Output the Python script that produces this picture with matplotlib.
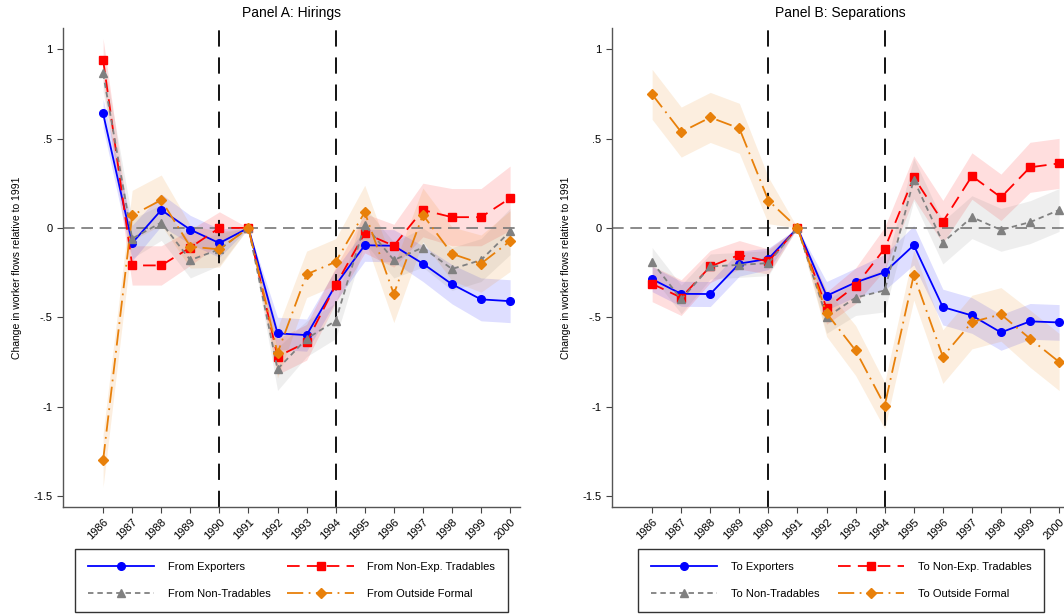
import matplotlib
matplotlib.use("Agg")
import matplotlib.pyplot as plt
import numpy as np

plt.rcParams["font.family"] = ["Liberation Sans", "DejaVu Sans"]

# ── Data ──────────────────────────────────────────────────────────
years = list(range(1986, 2001))

# Panel A: Hirings
hir_exp = [0.64, -0.085, 0.10, -0.01, -0.085, 0.0, -0.59, -0.60, -0.32, -0.097, -0.10, -0.20, -0.315, -0.40, -0.41]
hir_net = [0.94, -0.21, -0.21, -0.11, 0.0, 0.0, -0.72, -0.64, -0.32, -0.03, -0.10, 0.10, 0.06, 0.06, 0.166]
hir_nt  = [0.864, -0.06, 0.03, -0.18, -0.12, 0.0, -0.79, -0.62, -0.52, 0.017, -0.18, -0.11, -0.23, -0.18, -0.02]
hir_out = [-1.30, 0.07, 0.156, -0.105, -0.12, 0.0, -0.70, -0.26, -0.19, 0.088, -0.37, 0.073, -0.145, -0.20, -0.074]

hir_exp_ci = [0.08, 0.10, 0.09, 0.08, 0.08, 0.0, 0.09, 0.09, 0.09, 0.09, 0.09, 0.10, 0.11, 0.12, 0.12]
hir_net_ci = [0.12, 0.11, 0.11, 0.10, 0.09, 0.0, 0.10, 0.10, 0.10, 0.11, 0.12, 0.15, 0.16, 0.16, 0.18]
hir_nt_ci  = [0.10, 0.11, 0.10, 0.10, 0.09, 0.0, 0.12, 0.10, 0.10, 0.10, 0.10, 0.11, 0.12, 0.12, 0.13]
hir_out_ci = [0.15, 0.14, 0.14, 0.12, 0.10, 0.0, 0.14, 0.13, 0.13, 0.15, 0.16, 0.15, 0.15, 0.16, 0.17]

# Panel B: Separations
sep_exp = [-0.287, -0.369, -0.37, -0.20, -0.173, 0.0, -0.38, -0.305, -0.248, -0.097, -0.443, -0.49, -0.585, -0.523, -0.529]
sep_net = [-0.313, -0.39, -0.216, -0.151, -0.188, 0.0, -0.449, -0.324, -0.116, 0.283, 0.034, 0.29, 0.171, 0.339, 0.361]
sep_nt  = [-0.19, -0.40, -0.216, -0.207, -0.197, 0.0, -0.50, -0.39, -0.35, 0.27, -0.082, 0.06, -0.011, 0.032, 0.10]
sep_out = [0.747, 0.536, 0.618, 0.557, 0.153, 0.0, -0.477, -0.686, -0.994, -0.264, -0.72, -0.527, -0.484, -0.62, -0.75]

sep_exp_ci = [0.07, 0.07, 0.07, 0.07, 0.06, 0.0, 0.08, 0.08, 0.10, 0.11, 0.10, 0.10, 0.10, 0.10, 0.10]
sep_net_ci = [0.10, 0.10, 0.09, 0.08, 0.07, 0.0, 0.09, 0.10, 0.12, 0.12, 0.12, 0.13, 0.13, 0.14, 0.14]
sep_nt_ci  = [0.08, 0.08, 0.07, 0.07, 0.07, 0.0, 0.09, 0.10, 0.12, 0.12, 0.12, 0.12, 0.12, 0.12, 0.12]
sep_out_ci = [0.14, 0.14, 0.14, 0.14, 0.13, 0.0, 0.13, 0.14, 0.13, 0.14, 0.15, 0.15, 0.15, 0.16, 0.16]

# ── Styles ────────────────────────────────────────────────────────
BLUE, RED, GRAY, ORANGE = "#0000ff", "#ff0000", "#808080", "#e8800a"
STYLES = [
    dict(color=BLUE,   marker="o", dashes=None,          ms=5.5),
    dict(color=RED,    marker="s", dashes=(7, 4),        ms=5.5),
    dict(color=GRAY,   marker="^", dashes=(3, 2.2),      ms=6),
    dict(color=ORANGE, marker="D", dashes=(9, 3, 1, 3),  ms=5),
]

panels = [
    ("Panel A: Hirings",
     [hir_exp, hir_net, hir_nt, hir_out],
     [hir_exp_ci, hir_net_ci, hir_nt_ci, hir_out_ci],
     ["From Exporters", "From Non-Exp. Tradables", "From Non-Tradables", "From Outside Formal"],
     [0.0592, 0.1743, 0.4295, 0.7797]),
    ("Panel B: Separations",
     [sep_exp, sep_net, sep_nt, sep_out],
     [sep_exp_ci, sep_net_ci, sep_nt_ci, sep_out_ci],
     ["To Exporters", "To Non-Exp. Tradables", "To Non-Tradables", "To Outside Formal"],
     [0.5752, 0.1743, 0.4295, 0.7797]),
]
legend_boxes = [(75 / 1064, 2 / 614, 433 / 1064, 60 / 614),
                (638 / 1064, 2 / 614, 406 / 1064, 60 / 614)]

fig = plt.figure(figsize=(10.64, 6.14), dpi=100)
x = np.array(years)

for (title, series, cis, labels, pos), lbox in zip(panels, legend_boxes):
    ax = fig.add_axes(pos)

    # bands first
    for vals, ci, st in zip(series, cis, STYLES):
        v, c = np.array(vals), np.array(ci)
        ax.fill_between(x, v - c, v + c, color=st["color"], alpha=0.13, lw=0)

    ax.axhline(0, color="#777777", lw=1.2, dashes=(7, 4), zorder=1)
    for yr in (1990, 1994):
        ax.axvline(yr, color="black", lw=1.3, dashes=(9, 6), zorder=1)

    handles = []
    for vals, st, lab in zip(series, STYLES, labels):
        kw = dict(color=st["color"], marker=st["marker"], ms=st["ms"], lw=1.3,
                  label=lab, zorder=3)
        if st["dashes"] is not None:
            kw["dashes"] = st["dashes"]
        h, = ax.plot(x, vals, **kw)
        handles.append(h)

    ax.set_xlim(1984.62, 2000.34)
    ax.set_ylim(-1.5615, 1.117)
    ax.set_xticks(years)
    ax.set_xticklabels([str(y) for y in years], rotation=45, ha="right",
                       rotation_mode="anchor", fontsize=8)
    ax.set_yticks([1, 0.5, 0, -0.5, -1, -1.5])
    ax.set_yticklabels(["1", ".5", "0", "-.5", "-1", "-1.5"], fontsize=8)
    ax.tick_params(direction="out", length=4, width=0.8, color="#444444")
    ax.tick_params(axis="x", pad=3)
    for s in ("top", "right"):
        ax.spines[s].set_visible(False)
    for s in ("left", "bottom"):
        ax.spines[s].set_color("#555555")
        ax.spines[s].set_linewidth(1.0)
    ax.set_ylabel("Change in worker flows relative to 1991", fontsize=7.5, labelpad=8)
    ax.set_title(title, fontsize=10, pad=8)

    # legend order: row-wise (Exporters, Non-Exp / Non-Trad, Outside)
    order = [0, 2, 1, 3]
    fig.legend([handles[i] for i in order], [labels[i] for i in order],
               ncol=2, loc="lower left", bbox_to_anchor=lbox, mode="expand",
               fontsize=8, frameon=True, fancybox=False, edgecolor="black",
               handlelength=6, handletextpad=1.2, borderaxespad=0,
               labelspacing=1.55, borderpad=1.15, columnspacing=1.0)

fig.savefig("out.png", dpi=100)
